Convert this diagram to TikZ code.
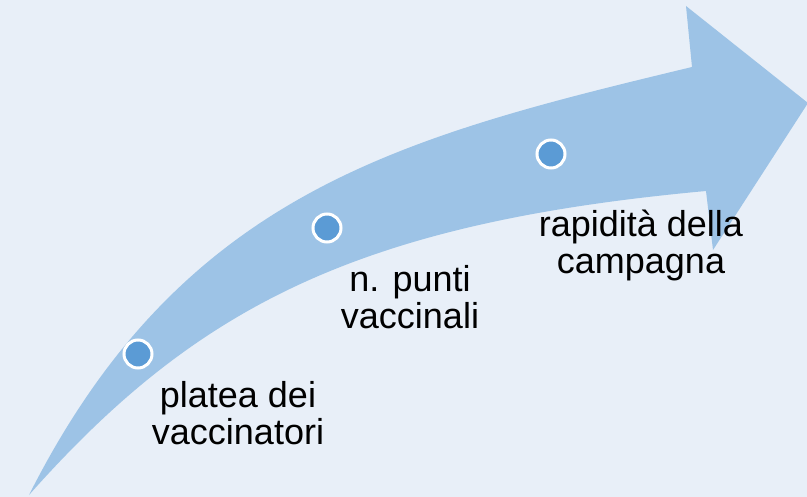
\documentclass[tikz,border=0pt]{standalone}
\usepackage{fontspec}
\setmainfont{Liberation Sans}
\definecolor{bgc}{HTML}{E8EFF8}
\definecolor{arrowc}{HTML}{9DC3E6}
\definecolor{dotc}{HTML}{5B9BD5}
\tikzset{
  dot/.style={circle, draw=white, line width=3pt, fill=dotc, minimum size=28pt, inner sep=0pt},
  lbl/.style={align=center, inner sep=0pt, font=\fontsize{36}{37}\selectfont, text=black}
}
\begin{document}
\begin{tikzpicture}[x=1pt,y=-1pt]
\fill[bgc] (0,0) rectangle (807,497);
\useasboundingbox (0,0) rectangle (807,497);
% curved arrow
\fill[arrowc] (29,495) .. controls (182,192) and (401,137) .. (692,67)
  -- (686,6) -- (808,103) -- (713,250) -- (706,191)
  .. controls (357,223) and (196,307) .. (29,495) -- cycle;
\node[dot] (d1) at (138,354) {};
\node[dot] (d2) at (327,228) {};
\node[dot] (d3) at (551,154) {};
\node[lbl, anchor=base] (t1) at (238,444) {platea dei\\vaccinatori};
\node[lbl, anchor=base] (t2) at (410,329) {n. punti\\vaccinali};
\node[lbl, anchor=base] (t3) at (641,274) {rapidità della\\campagna};
\end{tikzpicture}
\end{document}
